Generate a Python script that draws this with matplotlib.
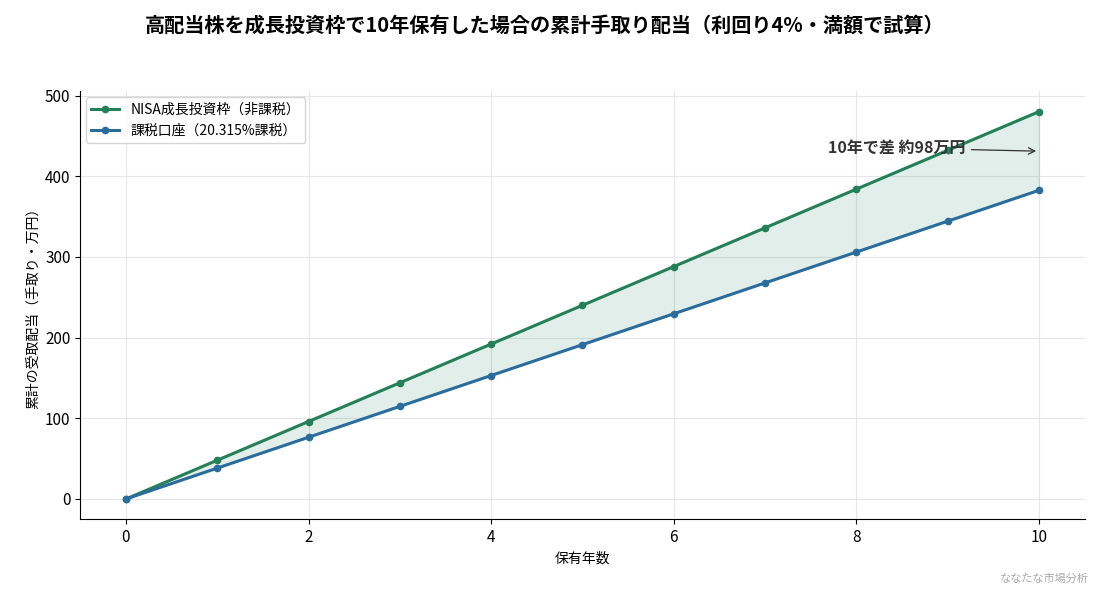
import matplotlib
matplotlib.use("Agg")
import matplotlib.pyplot as plt

plt.rcParams['font.family'] = ['Noto Sans CJK JP', 'DejaVu Sans']

years = list(range(11))
nisa = [0, 48, 96, 144, 192, 240, 288, 336, 384, 432, 480]
taxable = [0, 38.25, 76.5, 114.75, 153.0, 191.25, 229.5, 267.75, 306.0, 344.25, 382.5]
labels = ["NISA成長投資枠（非課税）", "課税口座（20.315%課税）"]

fig = plt.figure(figsize=(11, 5.94), dpi=100)
ax = fig.add_axes([0.073, 0.126, 0.913, 0.72])
green = "#238058"
blue = "#2a6c9c"
ax.plot(years, nisa, color=green, lw=2.2, marker='o', ms=4.5, label=labels[0])
ax.plot(years, taxable, color=blue, lw=2.2, marker='o', ms=4.5, label=labels[1])
ax.fill_between(years, taxable, nisa, color=green, alpha=0.13)
ax.set_xlim(-0.5, 10.5)
ax.set_ylim(-25, 505)
ax.set_xticks([0, 2, 4, 6, 8, 10])
ax.set_yticks([0, 100, 200, 300, 400, 500])
ax.tick_params(labelsize=11)
ax.grid(True, color="#e6e6e6", lw=0.8)
ax.set_axisbelow(True)
for s in ['top', 'right']:
    ax.spines[s].set_visible(False)
ax.set_xlabel("保有年数", fontsize=10)
ax.set_ylabel("累計の受取配当（手取り・万円）", fontsize=10)
ax.legend(loc='upper left', fontsize=10, frameon=True, borderaxespad=0.4)
ax.annotate("10年で差 約98万円", xy=(10, 431), xytext=(9.2, 435),
            fontsize=11.5, fontweight='bold', color="#333333", ha='right', va='center',
            arrowprops=dict(arrowstyle='->', color="#333333", lw=0.9))
fig.suptitle("高配当株を成長投資枠で10年保有した場合の累計手取り配当（利回り4%・満額で試算）",
             fontsize=14.5, fontweight='bold', x=0.495, y=0.975)
fig.text(0.99, 0.02, "ななたな市場分析", fontsize=8, color="#aaaaaa", ha='right')
fig.savefig("out.png", dpi=100)
